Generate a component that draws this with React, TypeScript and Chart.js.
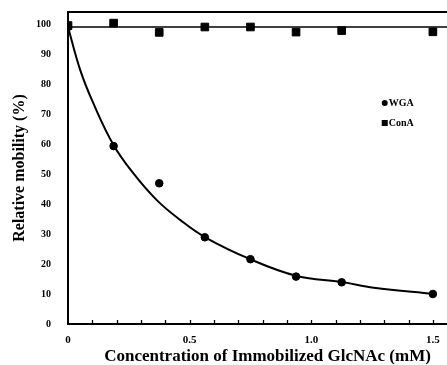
import React, { useEffect, useRef } from "react";
import { Chart, registerables } from "chart.js";

Chart.register(...registerables);

// Measured data (WGA and ConA relative mobility, %)
const concentrations = [0, 0.1875, 0.375, 0.5625, 0.75, 0.9375, 1.125, 1.5];
const wgaValues = [99, 59.3, 46.9, 28.9, 21.6, 15.8, 13.9, 10];
const conaValues = [99.5, 100.3, 97.2, 99, 99, 97.3, 97.8, 97.4];

// Fitted curve for WGA
const wgaFitX = [0, 0.05, 0.104, 0.187, 0.269, 0.365, 0.461, 0.564, 0.749, 0.941, 1.126, 1.257, 1.503];
const wgaFitY = [99, 84.7, 73.6, 59.7, 50.2, 41.3, 34.7, 28.9, 21.6, 16, 14, 12.1, 10];

// ConA fitted horizontal line
const conaFitX = [0, 1.558];
const conaFitY = [99, 99];

const xMin = 0;
const xMax = 1.558;
const yMin = 0;
const yMax = 104;
const yLabelTicks = [0, 10, 20, 30, 40, 50, 60, 70, 80, 90, 100];
const xLabelTicks = [0, 0.5, 1.0, 1.5];
const xLabelText = ["0", "0.5", "1.0", "1.5"];
const xMinorStep = 0.1;

const seriesNames = ["WGA", "ConA"];
const xTitle = "Concentration of Immobilized GlcNAc (mM)";
const yTitle = "Relative mobility (%)";

const FONT = '"Liberation Serif", "Times New Roman", serif';

export default function App() {
  const canvasRef = useRef<HTMLCanvasElement | null>(null);

  useEffect(() => {
    const canvas = canvasRef.current;
    if (!canvas) return;

    const framePlugin = {
      id: "frame",
      afterDraw(chart: any) {
        const { ctx, chartArea } = chart;
        const xs = chart.scales.x;
        const ys = chart.scales.y;
        ctx.save();
        ctx.strokeStyle = "#000";
        // top border
        ctx.lineWidth = 2;
        ctx.beginPath();
        ctx.moveTo(chartArea.left, chartArea.top);
        ctx.lineTo(chartArea.right, chartArea.top);
        ctx.stroke();
        // inward minor ticks on x axis
        ctx.lineWidth = 1.3;
        for (let i = 1; i * xMinorStep <= 1.5 + 1e-9; i++) {
          const px = Math.round(xs.getPixelForValue(i * xMinorStep)) + 0.5;
          ctx.beginPath();
          ctx.moveTo(px, chartArea.bottom);
          ctx.lineTo(px, chartArea.bottom - 4);
          ctx.stroke();
        }
        // legend
        const lx = xs.getPixelForValue(1.302);
        const ly1 = ys.getPixelForValue(73.7);
        const ly2 = ys.getPixelForValue(67);
        ctx.fillStyle = "#000";
        ctx.beginPath();
        ctx.arc(lx, ly1, 3, 0, Math.PI * 2);
        ctx.fill();
        ctx.fillRect(lx - 3, ly2 - 3, 6, 6);
        ctx.font = `bold 10px ${FONT}`;
        ctx.textBaseline = "middle";
        ctx.textAlign = "left";
        ctx.fillText(seriesNames[0], lx + 4, ly1 + 0.5);
        ctx.fillText(seriesNames[1], lx + 4, ly2 + 0.5);
        // x axis title
        ctx.font = `bold 17px ${FONT}`;
        ctx.textAlign = "center";
        ctx.fillText(xTitle, (chartArea.left + chartArea.right) / 2 + 10, chartArea.bottom + 33);
        ctx.restore();
      },
    };

    const chart = new Chart(canvas, {
      type: "scatter",
      data: {
        datasets: [
          {
            type: "line",
            label: "WGA fit",
            data: wgaFitX.map((x, i) => ({ x, y: wgaFitY[i] })),
            borderColor: "#000",
            borderWidth: 2,
            pointRadius: 0,
            tension: 0.4,
            fill: false,
          },
          {
            type: "line",
            label: "ConA fit",
            data: conaFitX.map((x, i) => ({ x, y: conaFitY[i] })),
            borderColor: "#000",
            borderWidth: 1.6,
            pointRadius: 0,
            fill: false,
          },
          {
            label: seriesNames[0],
            data: concentrations.map((x, i) => ({ x, y: wgaValues[i] })),
            backgroundColor: "#000",
            borderColor: "#000",
            pointStyle: "circle",
            pointRadius: 3.8,
          },
          {
            label: seriesNames[1],
            data: concentrations.map((x, i) => ({ x, y: conaValues[i] })),
            backgroundColor: "#000",
            borderColor: "#000",
            pointStyle: "rect",
            pointRadius: 5.4,
          },
        ],
      } as any,
      options: {
        animation: false,
        responsive: false,
        maintainAspectRatio: false,
        layout: { autoPadding: false, padding: { top: 12, right: 0, left: 0, bottom: 0 } },
        plugins: {
          legend: { display: false },
          tooltip: { enabled: false },
        },
        scales: {
          x: {
            type: "linear",
            min: xMin,
            max: xMax,
            afterFit: (s: any) => {
              s.height = 41;
              s.paddingLeft = 0;
              s.paddingRight = 0;
            },
            afterBuildTicks: (s: any) => {
              s.ticks = xLabelTicks.map((v) => ({ value: v }));
            },
            grid: { display: false, drawTicks: false },
            border: { display: true, color: "#000", width: 2 },
            ticks: {
              padding: 10,
              color: "#000",
              font: { family: FONT, size: 11, weight: "bold" },
              maxRotation: 0,
              autoSkip: false,
              callback: (v: any) => {
                const idx = xLabelTicks.findIndex((t) => Math.abs(t - v) < 1e-6);
                return idx >= 0 ? xLabelText[idx] : "";
              },
            },
            title: { display: false },
          },
          y: {
            type: "linear",
            min: yMin,
            max: yMax,
            afterFit: (s: any) => {
              s.width = 68;
              s.paddingTop = 0;
              s.paddingBottom = 0;
            },
            afterBuildTicks: (s: any) => {
              s.ticks = yLabelTicks.map((v) => ({ value: v }));
            },
            grid: { display: false, drawTicks: false },
            border: { display: true, color: "#000", width: 2 },
            ticks: {
              padding: 17,
              color: "#000",
              font: { family: FONT, size: 10, weight: "bold" },
              callback: (v: any) => String(v),
            },
            title: {
              display: true,
              text: yTitle,
              color: "#000",
              font: { family: FONT, size: 16, weight: "bold" },
              padding: { top: 10.5, bottom: 0 },
            },
          },
        },
      } as any,
      plugins: [framePlugin],
    });

    return () => chart.destroy();
  }, []);

  return (
    <div style={{ position: "fixed", left: 0, top: 0, width: 447, height: 365, background: "#fff" }}>
      <canvas ref={canvasRef} width={447} height={365} style={{ display: "block", width: 447, height: 365 }} />
    </div>
  );
}
